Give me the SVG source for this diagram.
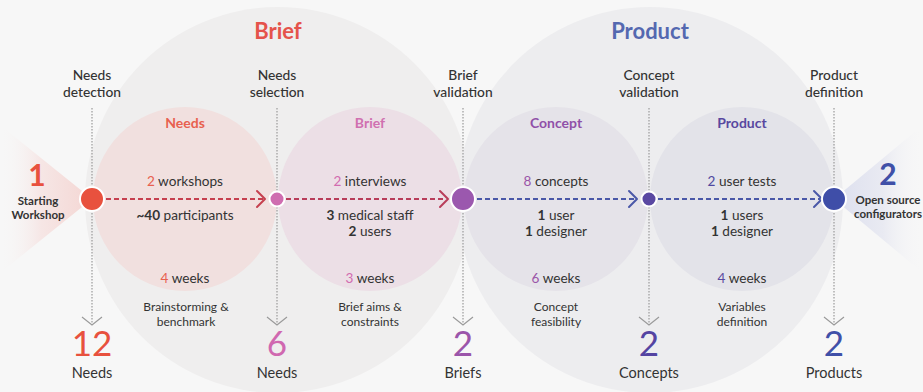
<svg xmlns="http://www.w3.org/2000/svg" width="923" height="392" viewBox="0 0 923 392">
  <defs>
    <style>
      text { font-family: Lato, "Open Sans", "Liberation Sans", sans-serif; fill: #333; text-anchor: middle; }
      .lbl { font-size: 13.8px; font-weight: 500; }
      .phase { font-size: 22px; font-weight: 700; }
      .sub { font-size: 14px; font-weight: 700; }
      .body { font-size: 13.6px; }
      .small { font-size: 12px; }
      .big { font-size: 35px; }
      .cap { font-size: 14.5px; }
      .side { font-size: 11.5px; font-weight: 700; }
      .b { font-weight: 700; }
      .guide { stroke: #9a9a9a; stroke-width: 1.2; stroke-dasharray: 1.5 1.5; fill: none; }
      .chev { stroke: #9a9a9a; stroke-width: 1.2; fill: none; }
      .flow { stroke-width: 2; stroke-dasharray: 5 3; fill: none; }
      .head { stroke-width: 2; fill: none; stroke-linecap: round; stroke-linejoin: round; }
      .red { stroke: #c6404f; }
      .rose { stroke: #b83d5a; }
      .blue { stroke: #4a58a8; }
      .node { stroke: #fff; stroke-width: 2; }
    </style>
    <linearGradient id="fanL" x1="1" y1="0" x2="0" y2="0">
      <stop offset="0" stop-color="#f4d6d3"/>
      <stop offset="0.55" stop-color="#f6e6e5"/>
      <stop offset="1" stop-color="#f7f7f7" stop-opacity="0"/>
    </linearGradient>
    <linearGradient id="fanR" x1="0" y1="0" x2="1" y2="0">
      <stop offset="0" stop-color="#dcdfee"/>
      <stop offset="0.55" stop-color="#e9eaf2"/>
      <stop offset="1" stop-color="#f7f7f7" stop-opacity="0"/>
    </linearGradient>
  </defs>

  <!-- background -->
  <rect width="923" height="392" fill="#f7f7f7"/>

  <!-- phase discs -->
  <g id="phase-brief">
    <circle cx="278" cy="200" r="193" fill="#efeeee"/>
    <text class="phase" x="278" y="39" style="fill:#e5534b">Brief</text>
  </g>
  <g id="phase-product">
    <circle cx="650" cy="200" r="193" fill="#ededef"/>
    <text class="phase" x="650" y="39" style="fill:#5468b0">Product</text>
  </g>

  <!-- start / end fans -->
  <polygon points="92,199 0,125 0,273" fill="url(#fanL)"/>
  <polygon points="834,199 923,125 923,273" fill="url(#fanR)"/>

  <!-- stage discs -->
  <g id="stage-needs">
    <circle cx="185" cy="199" r="92" fill="#f1e0df"/>
    <text class="sub" x="185" y="128" style="fill:#e8604f">Needs</text>
    <text class="body" x="185" y="186"><tspan style="fill:#e8604f">2</tspan> workshops</text>
    <text class="body" x="185" y="220"><tspan class="b">~40</tspan> participants</text>
    <text class="body" x="185" y="283"><tspan style="fill:#e8604f">4</tspan> weeks</text>
    <text class="small" x="186" y="311">Brainstorming &amp;</text>
    <text class="small" x="186" y="326">benchmark</text>
  </g>
  <g id="stage-brief">
    <circle cx="370" cy="199" r="92" fill="#ecdfe6"/>
    <text class="sub" x="370" y="128" style="fill:#d070b0">Brief</text>
    <text class="body" x="370" y="186"><tspan style="fill:#d26cb0">2</tspan> interviews</text>
    <text class="body" x="370" y="219.5"><tspan class="b">3</tspan> medical staff</text>
    <text class="body" x="370" y="236"><tspan class="b">2</tspan> users</text>
    <text class="body" x="370" y="283"><tspan style="fill:#d26cb0">3</tspan> weeks</text>
    <text class="small" x="370" y="311">Brief aims &amp;</text>
    <text class="small" x="370" y="326">constraints</text>
  </g>
  <g id="stage-concept">
    <circle cx="556" cy="199" r="92" fill="#e5e3e9"/>
    <text class="sub" x="556" y="128" style="fill:#9050a8">Concept</text>
    <text class="body" x="556" y="186"><tspan style="fill:#9a55a8">8</tspan> concepts</text>
    <text class="body" x="556" y="219.5"><tspan class="b">1</tspan> user</text>
    <text class="body" x="556" y="236"><tspan class="b">1</tspan> designer</text>
    <text class="body" x="556" y="283"><tspan style="fill:#9a55a8">6</tspan> weeks</text>
    <text class="small" x="556" y="311">Concept</text>
    <text class="small" x="556" y="326">feasibility</text>
  </g>
  <g id="stage-product">
    <circle cx="742" cy="199" r="92" fill="#e3e3e9"/>
    <text class="sub" x="742" y="128" style="fill:#5848a0">Product</text>
    <text class="body" x="742" y="186"><tspan style="fill:#5048a0">2</tspan> user tests</text>
    <text class="body" x="742" y="219.5"><tspan class="b">1</tspan> users</text>
    <text class="body" x="742" y="236"><tspan class="b">1</tspan> designer</text>
    <text class="body" x="742" y="283"><tspan style="fill:#5a4aa0">4</tspan> weeks</text>
    <text class="small" x="742" y="311">Variables</text>
    <text class="small" x="742" y="326">definition</text>
  </g>

  <!-- connectors: milestone guides and the flow between milestones -->
  <g id="connectors">
    <path class="guide" d="M92,108 V325 M277,108 V325 M463,108 V325 M649,108 V325 M834,108 V325"/>
    <path class="chev" d="M82,317 L92,325 L102,317 M267,317 L277,325 L287,317 M453,317 L463,325 L473,317 M639,317 L649,325 L659,317 M824,317 L834,325 L844,317"/>
    <path class="flow red" d="M106,199 H263"/>
    <path class="head red" d="M257,191 L265,199 L257,207"/>
    <path class="flow rose" d="M286,199 H446"/>
    <path class="head rose" d="M440,191 L448,199 L440,207"/>
    <path class="flow blue" d="M477,199 H635"/>
    <path class="head blue" d="M629,191 L637,199 L629,207"/>
    <path class="flow blue" d="M658,199 H820"/>
    <path class="head blue" d="M814,191 L822,199 L814,207"/>
  </g>

  <!-- milestones -->
  <g id="ms-needs-detection">
    <text class="lbl" x="92" y="80">Needs</text>
    <text class="lbl" x="92" y="97">detection</text>
    <circle class="node" cx="92" cy="199" r="12" fill="#e8513e"/>
    <text class="big" x="92" y="356" style="fill:#e8513e">12</text>
    <text class="cap" x="92" y="378">Needs</text>
  </g>
  <g id="ms-needs-selection">
    <text class="lbl" x="277" y="80">Needs</text>
    <text class="lbl" x="277" y="97">selection</text>
    <circle class="node" cx="277" cy="199" r="7.5" fill="#cf6db0"/>
    <text class="big" x="277" y="356" style="fill:#d068b0">6</text>
    <text class="cap" x="277" y="378">Needs</text>
  </g>
  <g id="ms-brief-validation">
    <text class="lbl" x="463" y="80">Brief</text>
    <text class="lbl" x="463" y="97">validation</text>
    <circle class="node" cx="463" cy="199" r="12" fill="#9b58ae"/>
    <text class="big" x="463" y="356" style="fill:#9b55aa">2</text>
    <text class="cap" x="463" y="378">Briefs</text>
  </g>
  <g id="ms-concept-validation">
    <text class="lbl" x="649" y="80">Concept</text>
    <text class="lbl" x="649" y="97">validation</text>
    <circle class="node" cx="649" cy="199" r="7.5" fill="#5a48a2"/>
    <text class="big" x="649" y="356" style="fill:#5444a2">2</text>
    <text class="cap" x="649" y="378">Concepts</text>
  </g>
  <g id="ms-product-definition">
    <text class="lbl" x="834" y="80">Product</text>
    <text class="lbl" x="834" y="97">definition</text>
    <circle class="node" cx="834" cy="199" r="12" fill="#3f4ea8"/>
    <text class="big" x="834" y="356" style="fill:#4050a8">2</text>
    <text class="cap" x="834" y="378">Products</text>
  </g>

  <!-- start and end -->
  <g id="start">
    <text x="37" y="186" style="font-size:30px;font-weight:700;fill:#e8513e">1</text>
    <text class="side" x="38" y="205">Starting</text>
    <text class="side" x="38" y="219">Workshop</text>
  </g>
  <g id="end">
    <text x="888" y="185" style="font-size:30px;font-weight:700;fill:#4050a8">2</text>
    <text class="side" x="888" y="204">Open source</text>
    <text class="side" x="888" y="218">configurators</text>
  </g>
</svg>
